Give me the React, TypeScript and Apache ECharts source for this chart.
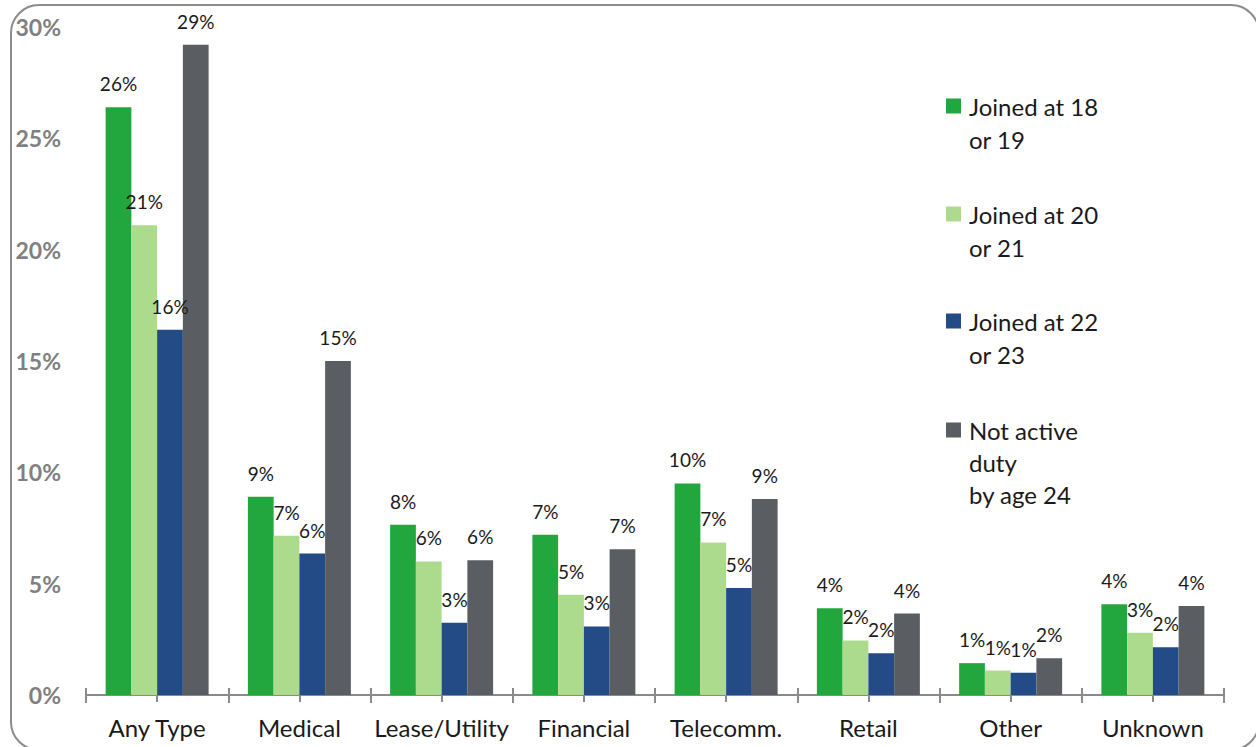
import React, { useEffect, useRef } from "react";
import * as echarts from "echarts";

const categories = ["Any Type", "Medical", "Lease/Utility", "Financial", "Telecomm.", "Retail", "Other", "Unknown"];
const seriesNames = ["Joined at 18 or 19", "Joined at 20 or 21", "Joined at 22 or 23", "Not active duty by age 24"];
const legendLabels = ["Joined at 18\nor 19", "Joined at 20\nor 21", "Joined at 22\nor 23", "Not active\nduty\nby age 24"];
const joined1819 = [26.4, 8.9, 7.65, 7.2, 9.5, 3.9, 1.43, 4.08];
const joined2021 = [21.1, 7.15, 6.0, 4.5, 6.85, 2.45, 1.1, 2.8];
const joined2223 = [16.4, 6.35, 3.25, 3.08, 4.8, 1.87, 1.0, 2.15];
const notActive = [29.2, 15.0, 6.05, 6.55, 8.8, 3.66, 1.65, 4.0];
const yTicks = [0, 5, 10, 15, 20, 25, 30];

const colors = ["#21A73E", "#ADDB8E", "#234B86", "#5A5D62"];
const FONT = "Lato, 'Open Sans', sans-serif";

export default function App() {
  const ref = useRef<HTMLDivElement>(null);
  useEffect(() => {
    if (!ref.current) return;
    const chart = echarts.init(ref.current, null, { renderer: "svg" });
    const values = [joined1819, joined2021, joined2223, notActive];
    const legendCenters = [106, 214, 321, 430];
    const legendLH = [33, 33, 33, 32];
    const legends = seriesNames.map((name, i) => {
      const lines = legendLabels[i].split("\n");
      const pad = lines.length - 1;
      const text = Array(pad).fill("").concat(lines).join("\n");
      const n = lines.length + pad;
      return {
        show: true,
        left: 946,
        top: legendCenters[i] - (n * legendLH[i]) / 2,
        padding: 0,
        itemWidth: 15,
        itemHeight: 15,
        itemGap: 0,
        icon: "rect",
        selectedMode: false,
        data: [name],
        formatter: () => text,
        textStyle: {
          fontFamily: FONT,
          fontSize: 24,
          color: "#1a1a1a",
          lineHeight: legendLH[i],
          padding: [0, 0, 0, 3],
        },
      };
    });
    chart.setOption({
      animation: false,
      color: colors,
      legend: legends,
      grid: { left: 86, right: 32, top: 27, bottom: 52, containLabel: false },
      graphic: [
        {
          type: "rect",
          shape: { x: 11, y: 5, width: 1248, height: 745, r: 28 },
          style: { fill: "none", stroke: "#8c8c8c", lineWidth: 2 },
          silent: true,
          z: 0,
        },
      ],
      xAxis: [
        {
          type: "category",
          data: categories,
          position: "bottom",
          axisLine: { show: true, lineStyle: { color: "#8a8a8a", width: 2 } },
          axisTick: { show: true, length: 8, lineStyle: { color: "#8a8a8a", width: 2 } },
          axisLabel: { interval: 0, fontFamily: FONT, fontSize: 24, color: "#1a1a1a", margin: 20 },
          splitLine: { show: false },
        },
        {
          type: "category",
          data: categories,
          position: "bottom",
          axisLine: { show: false },
          axisTick: { show: true, inside: true, length: 7, lineStyle: { color: "#8a8a8a", width: 2 } },
          axisLabel: { show: false },
          splitLine: { show: false },
        },
        {
          type: "category",
          data: categories,
          position: "bottom",
          axisLine: { show: false },
          axisTick: { show: true, alignWithLabel: true, interval: 0, length: 7, lineStyle: { color: "#8a8a8a", width: 2 } },
          axisLabel: { show: false },
          splitLine: { show: false },
        },
      ],
      yAxis: {
        type: "value",
        min: yTicks[0],
        max: yTicks[yTicks.length - 1],
        interval: 5,
        axisLine: { show: false },
        axisTick: { show: false },
        splitLine: { show: false },
        axisLabel: {
          formatter: "{value}%",
          fontFamily: FONT,
          fontSize: 23,
          fontWeight: "bold",
          color: "#808080",
          margin: 25,
        },
      },
      series: seriesNames.map((name, i) => ({
        name,
        type: "bar",
        xAxisIndex: 0,
        data: values[i],
        barGap: "0%",
        barCategoryGap: "27.6%",
        itemStyle: { color: colors[i] },
        label: {
          show: true,
          position: "top",
          distance: 14,
          fontFamily: FONT,
          fontSize: 19,
          color: "#1a1a1a",
          formatter: (p: any) => Math.round(p.value) + "%",
        },
      })),
    });
    return () => chart.dispose();
  }, []);
  return (
    <div
      ref={ref}
      style={{ position: "fixed", left: 0, top: 0, width: 1256, height: 747, background: "#fff" }}
    />
  );
}
